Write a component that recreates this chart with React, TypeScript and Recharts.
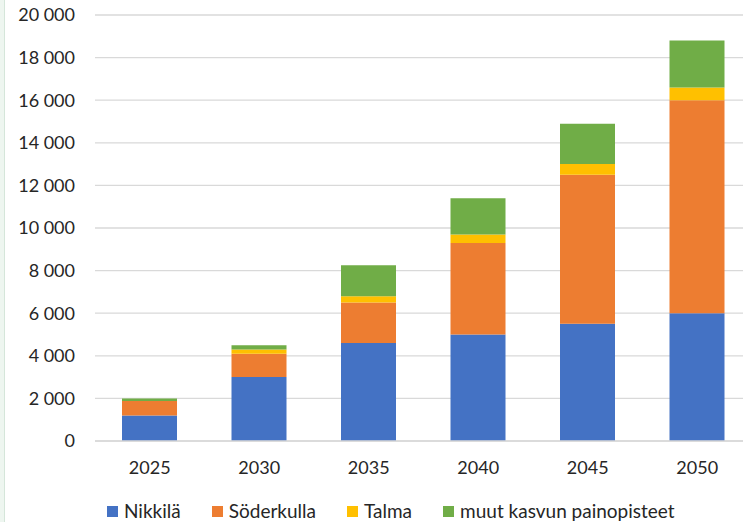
import React from 'react';
import { BarChart, Bar, XAxis, YAxis, CartesianGrid, Legend } from 'recharts';

const years = ['2025', '2030', '2035', '2040', '2045', '2050'];
const nikkila = [1200, 3000, 4600, 5000, 5500, 6000];
const soderkulla = [680, 1100, 1900, 4300, 7000, 10000];
const talma = [0, 200, 300, 400, 500, 600];
const muut = [120, 200, 1450, 1700, 1900, 2200];
const yTicks = [0, 2000, 4000, 6000, 8000, 10000, 12000, 14000, 16000, 18000, 20000];

const data = years.map((y, i) => ({
  year: y,
  'Nikkilä': nikkila[i],
  'Söderkulla': soderkulla[i],
  'Talma': talma[i],
  'muut kasvun painopisteet': muut[i],
}));

const FONT = 'Lato, "Open Sans", sans-serif';
const TEXT = '#262626';

// thousands with a space, e.g. 20 000
const fmt = (v: number) => String(v).replace(/\B(?=(\d{3})+(?!\d))/g, ' ');

const renderLegend = (props: any) => {
  const { payload } = props;
  return (
    <div style={{ display: 'flex', paddingLeft: 107, paddingTop: 19, height: 22, fontFamily: FONT, fontSize: 19, color: TEXT }}>
      {payload.map((p: any) => (
        <div key={p.value} style={{ display: 'flex', alignItems: 'center', marginRight: 31 }}>
          <span style={{ width: 11, height: 11, background: p.color, marginRight: 6, display: 'inline-block' }} />
          <span style={{ lineHeight: '22px' }}>{p.value}</span>
        </div>
      ))}
    </div>
  );
};

export default function App() {
  return (
    <div style={{ position: 'absolute', left: 0, top: 0, width: 743, height: 522, overflow: 'hidden', background: '#fff' }}>
      <div style={{ position: 'absolute', left: 0, top: 0, width: 4, height: 522, background: '#eef6f0', borderRight: '1px solid #d5e6da' }} />
      <BarChart
        width={760}
        height={522}
        data={data}
        barSize={55}
        margin={{ top: 15, right: 8, left: 0, bottom: 0 }}
      >
        <CartesianGrid vertical={false} stroke="#d9d9d9" strokeWidth={1.3} />
        <XAxis
          dataKey="year"
          height={40}
          tickLine={false}
          tickSize={0}
          tickMargin={20}
          axisLine={{ stroke: '#d9d9d9', strokeWidth: 1.3 }}
          tick={{ fill: TEXT, fontSize: 18, fontFamily: FONT }}
        />
        <YAxis
          width={95}
          domain={[0, 20000]}
          ticks={yTicks}
          tickFormatter={fmt}
          axisLine={false}
          tickLine={false}
          tickSize={0}
          tickMargin={20}
          tick={{ fill: TEXT, fontSize: 18, fontFamily: FONT }}
        />
        <Legend verticalAlign="bottom" height={41} content={renderLegend} wrapperStyle={{ left: 0, width: 760 }} />
        <Bar dataKey="Nikkilä" stackId="a" fill="#4472C4" isAnimationActive={false} />
        <Bar dataKey="Söderkulla" stackId="a" fill="#ED7D31" isAnimationActive={false} />
        <Bar dataKey="Talma" stackId="a" fill="#FFC000" isAnimationActive={false} />
        <Bar dataKey="muut kasvun painopisteet" stackId="a" fill="#70AD47" isAnimationActive={false} />
      </BarChart>
    </div>
  );
}
